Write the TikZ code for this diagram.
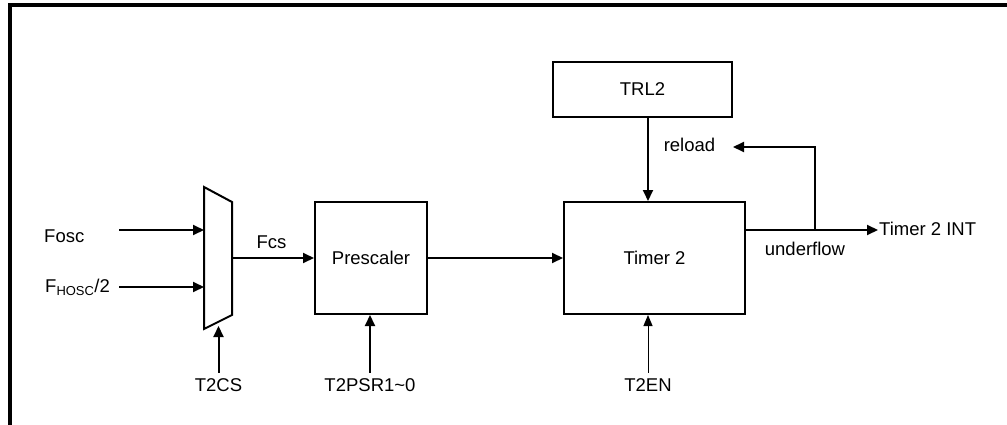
\documentclass[tikz,border=0pt]{standalone}
\usepackage{fontspec}
\setmainfont{Liberation Sans}
\usetikzlibrary{arrows.meta}

\tikzstyle{arrow} = [line width=2pt,-{Triangle[length=11pt,width=10pt]}]
\tikzstyle{thinarrow} = [line width=1pt,-{Triangle[length=11pt,width=9pt]}]
\tikzstyle{block} = [
        rectangle,
        draw=black,
        line width=2pt,
        text centered,
        inner sep=0pt
    ]
\tikzstyle{sig} = [inner sep=1pt]
\tikzstyle{ctrl} = [inner xsep=1pt, inner ysep=5pt, anchor=base]

\begin{document}
\begin{tikzpicture}[x=1pt,y=-1pt,font=\fontsize{18.5}{22}\selectfont]
        \useasboundingbox (0,0) rectangle (1007,425);
        \draw [line width=3.3pt] (10,430) -- (10,5) -- (1012,5);

        % clock select mux
        \coordinate (muxtl) at (204,187);
        \coordinate (muxtr) at (232,202);
        \coordinate (muxbr) at (232,315);
        \coordinate (muxbl) at (204,329);
        \draw [line width=2pt] (muxtl) -- (muxtr) -- (muxbr) -- (muxbl) -- cycle;
        \coordinate (muxin1) at (204,230);
        \coordinate (muxin2) at (204,287);
        \coordinate (muxout) at (232,258);
        \coordinate (muxsel) at (218,326);

        \node [block, minimum width=112pt, minimum height=112pt] (prescaler) at (371,258) {Prescaler};
        \node [block, minimum width=181pt, minimum height=112pt] (timer) at (654.5,258) {Timer 2};
        \node [block, minimum width=179pt, minimum height=55pt] (trl2) at (642.5,89.5) {TRL2};

        \node [sig, anchor=base west] (fosc) at (43,242) {Fosc};
        \node [sig, anchor=base west] (fhosc) at (44,292) {F\textsubscript{HOSC}/2};
        \coordinate (foscsrc) at (119,230);
        \coordinate (fhoscsrc) at (119,287);
        \node [sig, anchor=base] (fcs) at (271.5,248) {Fcs};
        \node [sig, anchor=base] (reload) at (689.5,152) {reload};
        \node [sig, anchor=base] (underflow) at (805,255) {underflow};
        \node [sig, anchor=base west] (int) at (878,235) {Timer 2 INT};

        \node [ctrl] (t2cs) at (218.5,391) {T2CS};
        \node [ctrl] (t2psr) at (370,391) {T2PSR1\textasciitilde 0};
        \node [ctrl] (t2en) at (648,391) {T2EN};

        \coordinate (branch) at (815,230);
        \coordinate (reloadtip) at (733,147);

        \draw [arrow] (foscsrc) -- (muxin1);
        \draw [arrow] (fhoscsrc) -- (muxin2);
        \draw [arrow] (muxout) -- (prescaler.west);
        \draw [arrow] (prescaler.east) -- (timer.west);
        \draw [arrow] (trl2.south -| t2en) -- (timer.north -| t2en);
        \draw [line width=2pt] (timer.east |- branch) -- (branch);
        \draw [arrow] (branch) -- (branch -| int.west);
        \draw [arrow] (branch) |- (reloadtip);
        \draw [arrow] (t2cs.north) -- (t2cs |- muxsel);
        \draw [arrow] (t2psr.north) -- (t2psr |- prescaler.south);
        \draw [thinarrow] (t2en.north) -- (t2en |- timer.south);

    \end{tikzpicture}
\end{document}
